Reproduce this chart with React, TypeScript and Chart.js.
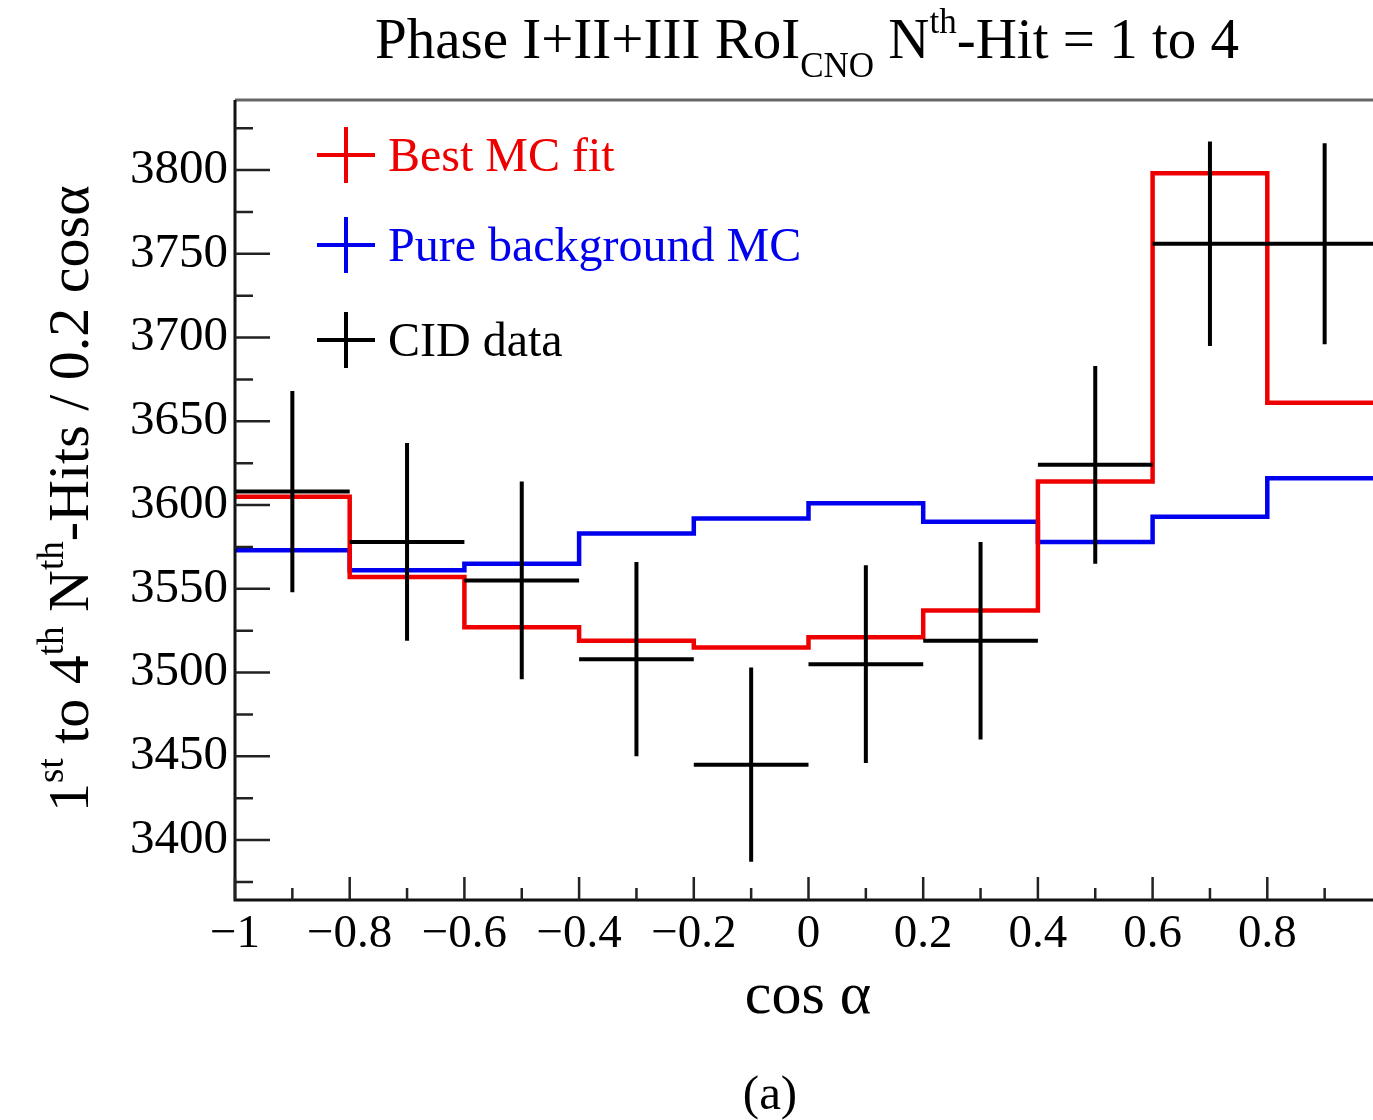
import React, { useEffect, useRef } from "react";
import { Chart, registerables } from "chart.js";

Chart.register(...registerables);

// ---- data ----
const binCenters = [-0.9, -0.7, -0.5, -0.3, -0.1, 0.1, 0.3, 0.5, 0.7, 0.9];
const binWidth = 0.2;
const bestMcFit = [3605, 3557, 3527, 3519, 3515, 3521, 3537, 3614, 3798, 3661];
const pureBackgroundMc = [3573, 3561, 3565, 3583, 3592, 3601, 3590, 3578, 3593, 3616];
const cidData = [3608, 3578, 3555, 3508, 3445, 3505, 3519, 3624, 3756, 3756];
const cidErrors = [60, 59, 59, 58, 58, 59, 59, 59, 61, 60];
const xTicks = [-1, -0.8, -0.6, -0.4, -0.2, 0, 0.2, 0.4, 0.6, 0.8, 1];
const yTicks = [3400, 3450, 3500, 3550, 3600, 3650, 3700, 3750, 3800];
const xRange = [-1, 1];
const yRange = [3364.2, 3841.8];

const legendItems = [
  { label: "Best MC fit", color: "#ee0000" },
  { label: "Pure background MC", color: "#0000ee" },
  { label: "CID data", color: "#000000" },
];

const FONT = "'Liberation Serif', 'Times New Roman', serif";

type Seg = { t: string; s?: "sup" | "sub" };

function drawRich(
  ctx: CanvasRenderingContext2D,
  segs: Seg[],
  x: number,
  y: number,
  size: number,
  smallSize: number,
  supOff: number,
  subOff: number,
  align: "left" | "center",
  color: string
) {
  ctx.save();
  ctx.fillStyle = color;
  ctx.textBaseline = "alphabetic";
  ctx.textAlign = "left";
  const widths = segs.map((sg) => {
    ctx.font = `${sg.s ? smallSize : size}px ${FONT}`;
    return ctx.measureText(sg.t).width;
  });
  const total = widths.reduce((a, b) => a + b, 0);
  let cx = align === "center" ? x - total / 2 : x;
  segs.forEach((sg, i) => {
    ctx.font = `${sg.s ? smallSize : size}px ${FONT}`;
    const dy = sg.s === "sup" ? -supOff : sg.s === "sub" ? subOff : 0;
    ctx.fillText(sg.t, cx, y + dy);
    cx += widths[i];
  });
  ctx.restore();
}

function fmtTick(v: number): string {
  if (Math.abs(v) < 1e-9) return "0";
  const s = String(Math.round(Math.abs(v) * 10) / 10);
  return v < 0 ? "\u2212" + s : s;
}

const framePlugin = {
  id: "rootFrame",
  afterDatasetsDraw(chart: any) {
    const { ctx, chartArea } = chart;
    const { left, right, top, bottom } = chartArea;
    const xs = chart.scales.x;
    const ys = chart.scales.y;
    ctx.save();
    // top and right frame
    ctx.strokeStyle = "#666666";
    ctx.lineWidth = 3;
    ctx.beginPath();
    ctx.moveTo(left, top);
    ctx.lineTo(right, top);
    ctx.lineTo(right, bottom);
    ctx.stroke();
    // axes
    ctx.strokeStyle = "#111111";
    ctx.lineWidth = 3;
    ctx.beginPath();
    ctx.moveTo(left, top);
    ctx.lineTo(left, bottom);
    ctx.lineTo(right, bottom);
    ctx.stroke();
    // x ticks (major + minor)
    ctx.lineWidth = 2.5;
    ctx.strokeStyle = "#222222";
    ctx.beginPath();
    for (let i = 0; i < xTicks.length; i++) {
      const px = xs.getPixelForValue(xTicks[i]);
      ctx.moveTo(px, bottom);
      ctx.lineTo(px, bottom - 23);
      if (i < xTicks.length - 1) {
        const mx = xs.getPixelForValue((xTicks[i] + xTicks[i + 1]) / 2);
        ctx.moveTo(mx, bottom);
        ctx.lineTo(mx, bottom - 12);
      }
    }
    // y ticks
    const minors: number[] = [];
    for (let i = 0; i < yTicks.length - 1; i++) minors.push((yTicks[i] + yTicks[i + 1]) / 2);
    const step = yTicks[1] - yTicks[0];
    minors.push(yTicks[0] - step / 2, yTicks[yTicks.length - 1] + step / 2);
    yTicks.forEach((v) => {
      const py = ys.getPixelForValue(v);
      ctx.moveTo(left, py);
      ctx.lineTo(left + 35, py);
    });
    minors.forEach((v) => {
      if (v < yRange[0] || v > yRange[1]) return;
      const py = ys.getPixelForValue(v);
      ctx.moveTo(left, py);
      ctx.lineTo(left + 18, py);
    });
    ctx.stroke();
    ctx.restore();
  },
  afterDraw(chart: any) {
    const { ctx } = chart;
    // title
    drawRich(
      ctx,
      [
        { t: "Phase I+II+III RoI" },
        { t: "CNO", s: "sub" },
        { t: " N" },
        { t: "th", s: "sup" },
        { t: "-Hit = 1 to 4" },
      ],
      375,
      58,
      57,
      35,
      25,
      19,
      "left",
      "#000"
    );
    // x title
    drawRich(ctx, [{ t: "cos \u03b1" }], 808, 1013, 60, 36, 0, 0, "center", "#000");
    // (a)
    drawRich(ctx, [{ t: "(a)" }], 770, 1109, 49, 34, 0, 0, "center", "#000");
    // y title (rotated)
    ctx.save();
    ctx.translate(88, 812);
    ctx.rotate(-Math.PI / 2);
    drawRich(
      ctx,
      [
        { t: "1" },
        { t: "st", s: "sup" },
        { t: " to 4" },
        { t: "th", s: "sup" },
        { t: " N" },
        { t: "th", s: "sup" },
        { t: "-Hits / 0.2 cos\u03b1" },
      ],
      0,
      0,
      58,
      37,
      25,
      0,
      "left",
      "#000"
    );
    ctx.restore();
    // legend
    const cx = 346;
    const rows = [155, 245, 340];
    legendItems.forEach((it, i) => {
      const cy = rows[i];
      ctx.save();
      ctx.strokeStyle = it.color;
      ctx.lineWidth = 4;
      ctx.beginPath();
      ctx.moveTo(cx - 29, cy);
      ctx.lineTo(cx + 29, cy);
      ctx.moveTo(cx, cy - 28);
      ctx.lineTo(cx, cy + 28);
      ctx.stroke();
      ctx.restore();
      drawRich(ctx, [{ t: it.label }], 388, cy + 16, 48, 32, 0, 0, "left", it.color);
    });
  },
};

function stepData(values: number[]) {
  const pts = binCenters.map((c, i) => ({ x: c - binWidth / 2, y: values[i] }));
  const n = binCenters.length;
  pts.push({ x: binCenters[n - 1] + binWidth / 2, y: values[n - 1] });
  return pts;
}

function crossData() {
  const pts: { x: number; y: number | null }[] = [];
  binCenters.forEach((c, i) => {
    const v = cidData[i];
    const e = cidErrors[i];
    pts.push({ x: c - binWidth / 2, y: v }, { x: c + binWidth / 2, y: v }, { x: c, y: null });
    pts.push({ x: c, y: v - e }, { x: c, y: v + e }, { x: c, y: null });
  });
  return pts;
}

export default function App() {
  const ref = useRef<HTMLCanvasElement | null>(null);
  useEffect(() => {
    if (!ref.current) return;
    const chart = new Chart(ref.current, {
      type: "line",
      data: {
        datasets: [
          {
            label: "CID data",
            data: crossData() as any,
            borderColor: "#000000",
            borderWidth: 4,
            pointRadius: 0,
            spanGaps: false,
            fill: false,
            order: 0,
          },
          {
            label: "Best MC fit",
            data: stepData(bestMcFit) as any,
            borderColor: "#ee0000",
            borderWidth: 4.5,
            pointRadius: 0,
            stepped: "before",
            fill: false,
            order: 1,
          },
          {
            label: "Pure background MC",
            data: stepData(pureBackgroundMc) as any,
            borderColor: "#0000ee",
            borderWidth: 4.5,
            pointRadius: 0,
            stepped: "before",
            fill: false,
            order: 2,
          },
        ],
      },
      options: {
        animation: false,
        responsive: false,
        maintainAspectRatio: false,
        events: [],
        layout: { padding: { top: 100, right: 38, left: 0, bottom: 0 } },
        plugins: {
          legend: { display: false },
          title: { display: false },
          tooltip: { enabled: false },
        },
        scales: {
          x: {
            type: "linear",
            min: xRange[0],
            max: xRange[1],
            grid: { display: false, drawTicks: false },
            border: { display: false },
            afterBuildTicks: (s: any) => {
              s.ticks = xTicks.map((v) => ({ value: v }));
            },
            afterFit: (s: any) => {
              s.height = 220;
              s.paddingLeft = 0;
              s.paddingRight = 0;
              s.paddingTop = 0;
              s.paddingBottom = 0;
            },
            ticks: {
              font: { family: FONT, size: 47 },
              color: "#000",
              padding: 6,
              maxRotation: 0,
              autoSkip: false,
              callback: (v: any) => fmtTick(Number(v)),
            },
          },
          y: {
            type: "linear",
            min: yRange[0],
            max: yRange[1],
            grid: { display: false, drawTicks: false },
            border: { display: false },
            afterBuildTicks: (s: any) => {
              s.ticks = yTicks.map((v) => ({ value: v }));
            },
            afterFit: (s: any) => {
              s.width = 235;
              s.paddingLeft = 0;
              s.paddingRight = 0;
              s.paddingTop = 0;
              s.paddingBottom = 0;
            },
            ticks: {
              font: { family: FONT, size: 49 },
              color: "#000",
              padding: 7,
              autoSkip: false,
              callback: (v: any) => String(v),
            },
          },
        },
      },
      plugins: [framePlugin],
    } as any);
    return () => chart.destroy();
  }, []);

  return (
    <div
      style={{
        position: "fixed",
        left: 0,
        top: 0,
        width: 1373,
        height: 1120,
        overflow: "hidden",
        background: "#fff",
      }}
    >
      <canvas ref={ref} width={1420} height={1120} style={{ width: 1420, height: 1120, display: "block" }} />
    </div>
  );
}
